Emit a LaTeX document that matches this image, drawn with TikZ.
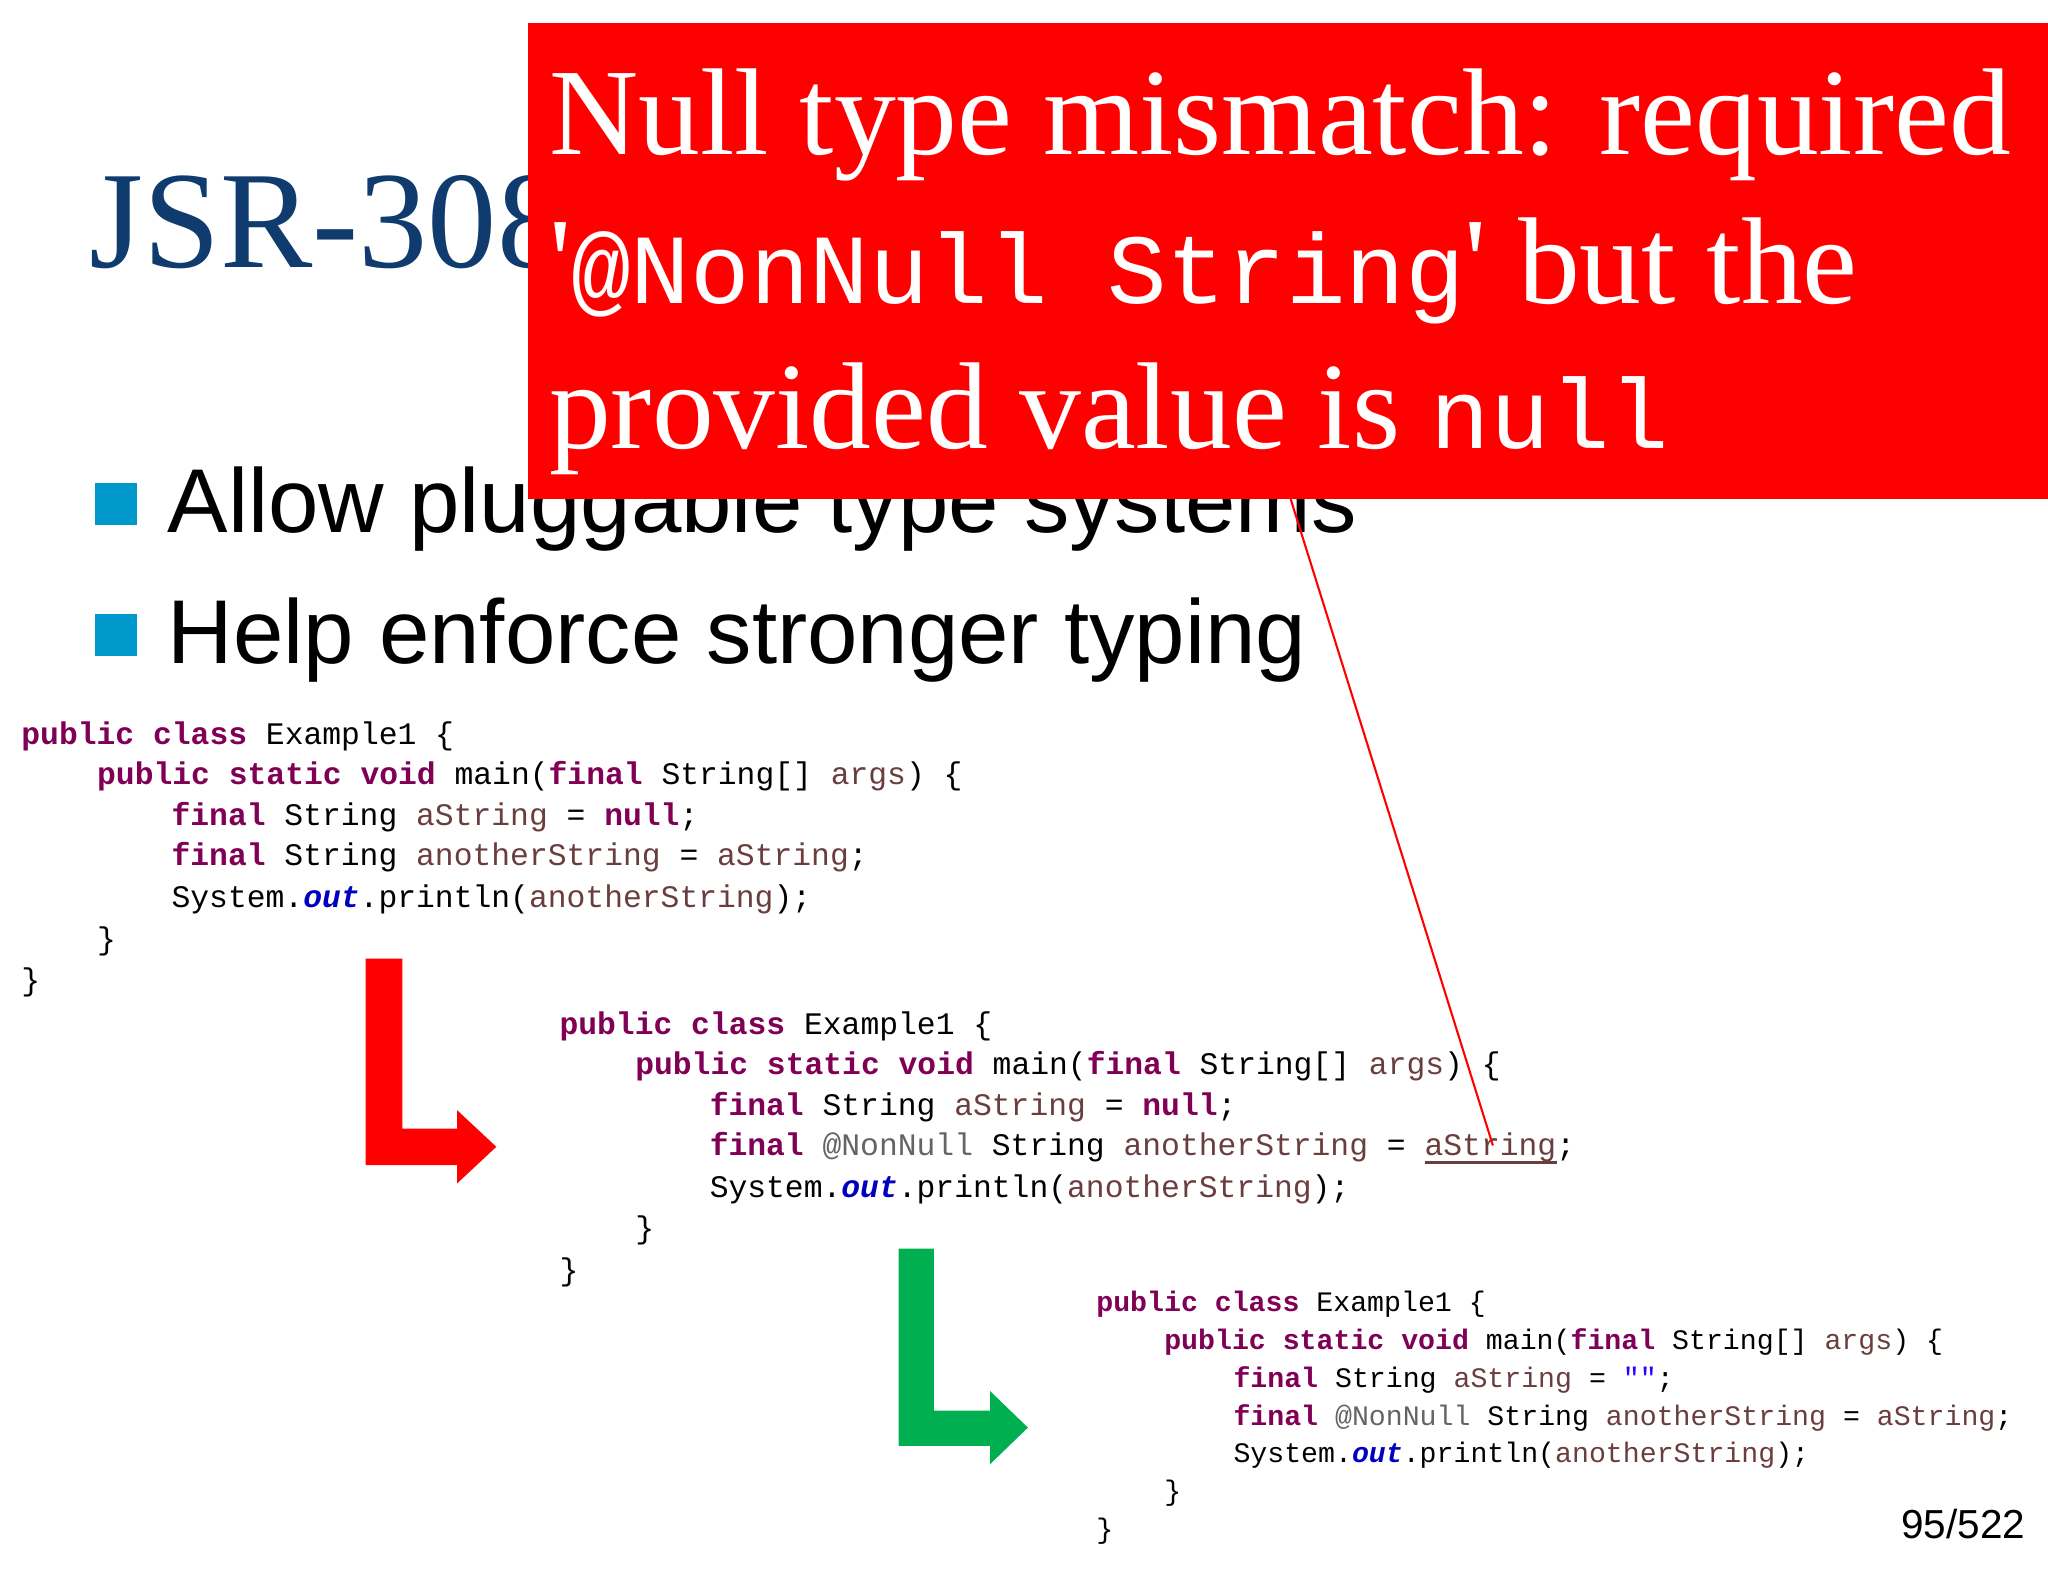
\documentclass[tikz,border=0pt]{standalone}
\usepackage{fontspec}
\setmainfont{Liberation Serif}
\setsansfont{Liberation Sans}
\setmonofont{Liberation Mono}
\newfontfamily\plainserif[Ligatures=Common]{Liberation Serif}
\definecolor{kwc}{HTML}{7F0055}
\definecolor{varc}{HTML}{6A3E3E}
\definecolor{outc}{HTML}{0000C0}
\definecolor{annc}{HTML}{646464}
\definecolor{strc}{HTML}{2A00FF}
\definecolor{titlec}{HTML}{0F3B6E}
\definecolor{bulc}{HTML}{0099CC}
\definecolor{boxred}{HTML}{FF0000}
\definecolor{arrgreen}{HTML}{00B050}
\newcommand{\kw}[1]{\textcolor{kwc}{\textbf{#1}}}
\newcommand{\vr}[1]{\textcolor{varc}{#1}}
\newcommand{\ou}[1]{\textcolor{outc}{\textbf{\textit{#1}}}}
\newcommand{\an}[1]{\textcolor{annc}{#1}}
\newcommand{\st}[1]{\textcolor{strc}{#1}}
\begin{document}
\begin{tikzpicture}[x=0.5pt,y=-0.5pt,
  cl/.style={anchor=base west,inner sep=0pt,font=\fontsize{12}{14}\selectfont\ttfamily},
  cs/.style={anchor=base west,inner sep=0pt,font=\fontsize{10.8}{13}\selectfont\ttfamily},
  bt/.style={anchor=base west,inner sep=0pt,font=\fontsize{34.7}{40}\selectfont\sffamily},
  rt/.style={anchor=base west,inner sep=0pt,text=white,font=\fontsize{47.3}{56}\selectfont}]
\useasboundingbox (0,0) rectangle (1568,1211);
% title
\node[anchor=base west,inner sep=0pt,text=titlec,font=\fontsize{53}{60}\selectfont] (title) at (68,205) {JSR-308};
% bullets
\fill[bulc] (73,370) rectangle (105,402);
\fill[bulc] (73,470) rectangle (105,502);
\node[bt] (b1) at (128,408) {Allow pluggable type systems};
\node[bt] (b2) at (128,508) {Help enforce stronger typing};
% red box
\node[fill=boxred,anchor=north west,minimum width=1164*0.5pt,minimum height=365*0.5pt,inner sep=0pt] (box) at (404,17) {};
\node[rt] (r1) at (420,118) {Null type mismatch: required};
\node[rt] (r2) at (420,232) {{\plainserif'}{\fontsize{38}{40}\selectfont\ttfamily @NonNull String}{\plainserif'} but the};
\node[rt] (r3) at (420,343) {provided value is {\fontsize{38}{40}\selectfont\ttfamily null}};
% block 1
\node[cl] (a1) at (16,570) {\kw{public} \kw{class} Example1 \{};
\node[cl] (a2) at (74,601) {\kw{public} \kw{static} \kw{void} main(\kw{final} String[] \vr{args}) \{};
\node[cl] (a3) at (131,632) {\kw{final} String \vr{aString} = \kw{null};};
\node[cl] (a4) at (131,663) {\kw{final} String \vr{anotherString} = \vr{aString};};
\node[cl] (a5) at (131,695) {System.\ou{out}.println(\vr{anotherString});};
\node[cl] (a6) at (74,727) {\}};
\node[cl] (a7) at (16,758) {\}};
% block 2
\node[cl] (c1) at (428,792) {\kw{public} \kw{class} Example1 \{};
\node[cl] (c2) at (486,823) {\kw{public} \kw{static} \kw{void} main(\kw{final} String[] \vr{args}) \{};
\node[cl] (c3) at (543,854) {\kw{final} String \vr{aString} = \kw{null};};
\node[cl] (c4) at (543,885) {\kw{final} \an{@NonNull} String \vr{anotherString} = \vr{aString};};
\node[cl] (c5) at (543,917) {System.\ou{out}.println(\vr{anotherString});};
\node[cl] (c6) at (486,948) {\}};
\node[cl] (c7) at (428,980) {\}};
\draw[varc,line width=1pt] (1091,890) -- (1192,890);
% block 3
\node[cs] (d1) at (839,1004) {\kw{public} \kw{class} Example1 \{};
\node[cs] (d2) at (891,1033) {\kw{public} \kw{static} \kw{void} main(\kw{final} String[] \vr{args}) \{};
\node[cs] (d3) at (944,1062) {\kw{final} String \vr{aString} = \st{""};};
\node[cs] (d4) at (944,1091) {\kw{final} \an{@NonNull} String \vr{anotherString} = \vr{aString};};
\node[cs] (d5) at (944,1120) {System.\ou{out}.println(\vr{anotherString});};
\node[cs] (d6) at (891,1149) {\}};
\node[cs] (d7) at (839,1178) {\}};
% connector
\coordinate (p1) at (985,372);
\coordinate (p2) at (1143,877);
\draw[boxred,line width=0.8pt] (p1) -- (p2);
% arrows
\fill[boxred] (280,734) -- (308,734) -- (308,864) -- (350,864) -- (350,850) -- (380,878) -- (350,906) -- (350,892) -- (280,892) -- cycle;
\fill[arrgreen] (688,956) -- (715,956) -- (715,1080) -- (758,1080) -- (758,1065) -- (787,1093) -- (758,1121) -- (758,1107) -- (688,1107) -- cycle;
% page number
\node[anchor=base east,inner sep=0pt,font=\fontsize{15.5}{18}\selectfont\sffamily] (pg) at (1551,1178) {95/522};
\end{tikzpicture}
\end{document}
